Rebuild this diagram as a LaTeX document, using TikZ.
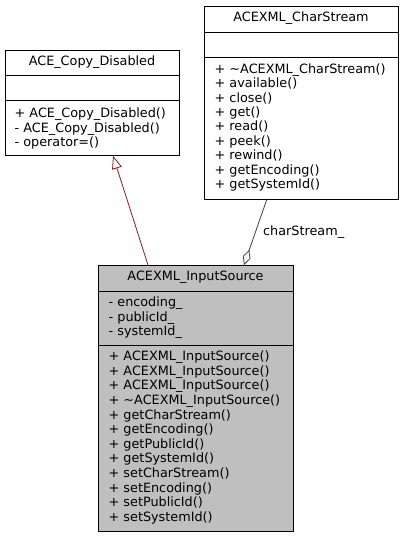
\documentclass[tikz,border=0pt]{standalone}
\usepackage{fontspec}
\setmainfont{DejaVu Sans}
\usetikzlibrary{arrows.meta,calc}
\definecolor{inhred}{HTML}{8B1A1A}
\definecolor{usegray}{HTML}{404040}
\definecolor{hlgray}{HTML}{BFBFBF}
\begin{document}
\begin{tikzpicture}[x=1pt,y=-1pt,
  umlbox/.style={draw=black, line width=0.8pt, inner sep=0pt, anchor=north west},
  seplinestyle/.style={draw=black, line width=0.8pt},
  txt/.style={inner sep=0pt, anchor=base west, font=\fontsize{12.8pt}{14.5pt}\selectfont},
  ttl/.style={inner sep=0pt, anchor=base, font=\fontsize{12.8pt}{14.5pt}\selectfont},
  inhedge/.style={draw=inhred, line width=0.8pt, -{Triangle[open, length=13pt, width=10pt, fill=white]}},
  aggedge/.style={draw=usegray, line width=0.8pt, {Diamond[open, length=16pt, width=8pt, fill=white]}-}
]
\useasboundingbox (0,0) rectangle (404,539);

% ACE_Copy_Disabled
\node[umlbox, minimum width=174pt, minimum height=105pt] (ace) at (5,50) {};
\draw[seplinestyle] (5,75) -- (179,75);
\draw[seplinestyle] (5,100) -- (179,100);
\node[ttl] (aceT) at (92,65.7) {ACE\_Copy\_Disabled};
\node[txt] (aceM1) at (14.5,117.5) {+ ACE\_Copy\_Disabled()};
\node[txt] (aceM2) at (14.5,132) {- ACE\_Copy\_Disabled()};
\node[txt] (aceM3) at (14.5,146.5) {- operator=()};

% ACEXML_CharStream
\node[umlbox, minimum width=194pt, minimum height=193pt] (cs) at (204,6) {};
\draw[seplinestyle] (204,32) -- (398,32);
\draw[seplinestyle] (204,57) -- (398,57);
\node[ttl] (csT) at (301,21.7) {ACEXML\_CharStream};
\node[txt] (csM1) at (214.5,73.3) {+ \textasciitilde ACEXML\_CharStream()};
\node[txt] (csM2) at (214.5,87.7) {+ available()};
\node[txt] (csM3) at (214.5,102.1) {+ close()};
\node[txt] (csM4) at (214.5,116.5) {+ get()};
\node[txt] (csM5) at (214.5,130.9) {+ read()};
\node[txt] (csM6) at (214.5,145.3) {+ peek()};
\node[txt] (csM7) at (214.5,159.7) {+ rewind()};
\node[txt] (csM8) at (214.5,174.1) {+ getEncoding()};
\node[txt] (csM9) at (214.5,188.5) {+ getSystemId()};

% ACEXML_InputSource
\node[umlbox, fill=hlgray, minimum width=195pt, minimum height=266pt] (is) at (98,265) {};
\draw[seplinestyle] (98,291) -- (293,291);
\draw[seplinestyle] (98,345) -- (293,345);
\node[ttl] (isT) at (195.5,280.7) {ACEXML\_InputSource};
\node[txt] (isA1) at (108.5,306.7) {- encoding\_};
\node[txt] (isA2) at (108.5,321) {- publicId\_};
\node[txt] (isA3) at (108.5,335.3) {- systemId\_};
\node[txt] (isM1) at (108.5,360.7) {+ ACEXML\_InputSource()};
\node[txt] (isM2) at (108.5,375.3) {+ ACEXML\_InputSource()};
\node[txt] (isM3) at (108.5,389.9) {+ ACEXML\_InputSource()};
\node[txt] (isM4) at (108.5,404.5) {+ \textasciitilde ACEXML\_InputSource()};
\node[txt] (isM5) at (108.5,419.1) {+ getCharStream()};
\node[txt] (isM6) at (108.5,433.7) {+ getEncoding()};
\node[txt] (isM7) at (108.5,448.3) {+ getPublicId()};
\node[txt] (isM8) at (108.5,462.9) {+ getSystemId()};
\node[txt] (isM9) at (108.5,477.5) {+ setCharStream()};
\node[txt] (isM10) at (108.5,492.1) {+ setEncoding()};
\node[txt] (isM11) at (108.5,506.7) {+ setPublicId()};
\node[txt] (isM12) at (108.5,521.3) {+ setSystemId()};

% connectors
\draw[inhedge] ($(is.north west)+(50,0)$) -- ($(ace.south west)+(108,0)$);
\draw[aggedge] ($(is.north west)+(146,0)$) -- ($(cs.south west)+(62.7,0)$);
\node[txt] (lbl) at (263,235) {charStream\_};
\end{tikzpicture}
\end{document}
